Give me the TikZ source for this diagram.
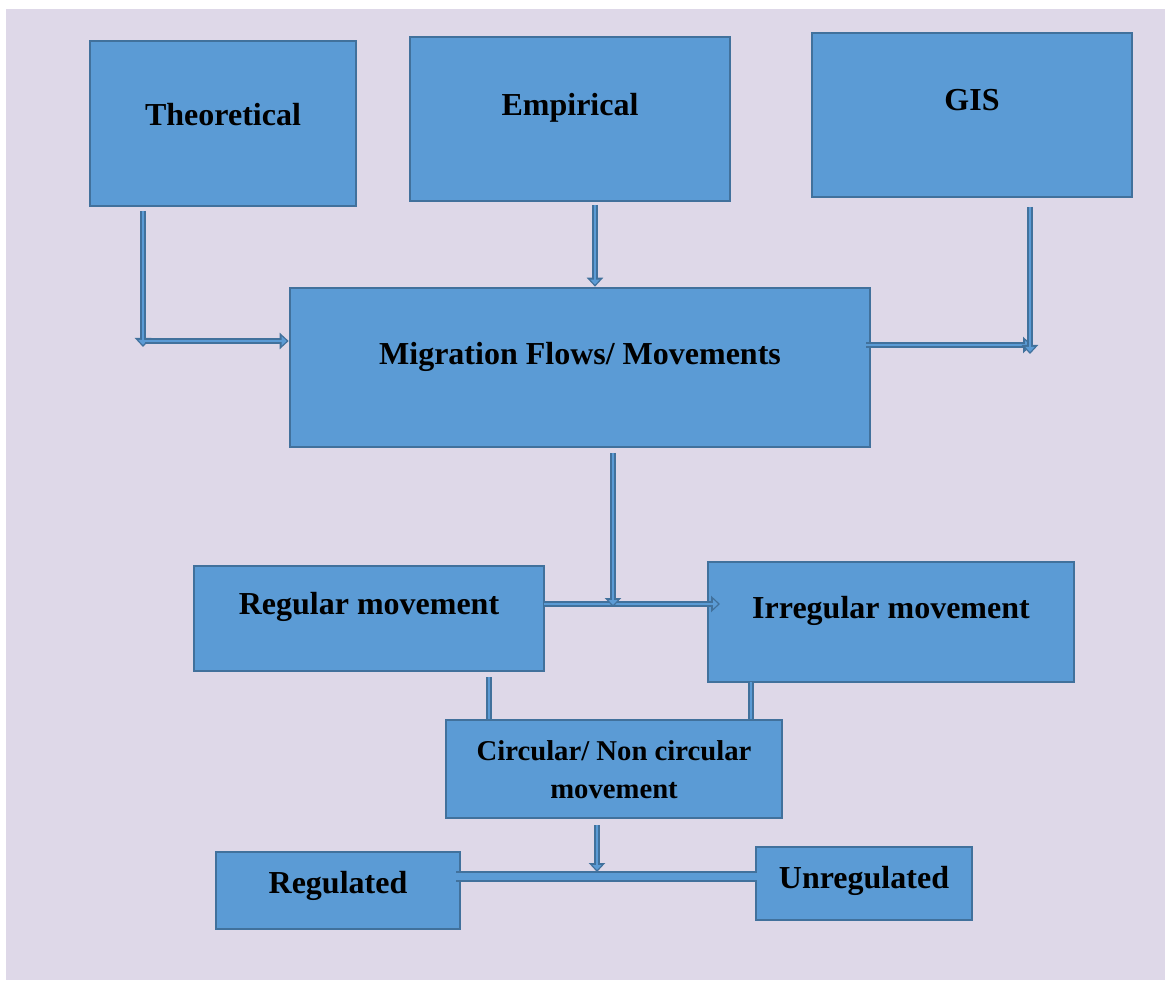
\documentclass[tikz,border=0pt]{standalone}
\usepackage{fontspec}
\setmainfont{Liberation Serif}
\usetikzlibrary{arrows.meta}
\definecolor{bg}{RGB}{222,216,232}
\definecolor{boxfill}{RGB}{91,155,213}
\definecolor{boxedge}{RGB}{65,113,156}
\tikzset{
  box/.style={draw=boxedge, fill=boxfill, line width=2.6pt, minimum width=#1, inner sep=0pt},
  lbl/.style={anchor=base, font=\fontsize{32}{38}\selectfont\bfseries, text=black, inner sep=0pt},
  slbl/.style={anchor=base, font=\fontsize{28.7}{38}\selectfont\bfseries, text=black, inner sep=0pt},
  band/.style={draw=boxedge, line width=6pt,
     postaction={draw=boxfill, line width=2.4pt}},
  aband/.style={draw=boxedge, line width=6pt, -{Triangle[width=16pt,length=9pt]},
     postaction={draw=boxfill, line width=2.4pt, -{Triangle[width=9pt,length=5pt]}, shorten >=2pt}},
  wband/.style={draw=boxedge, line width=11pt,
     postaction={draw=boxfill, line width=7pt}}
}
\begin{document}
\begin{tikzpicture}[x=1pt,y=-1pt]
\useasboundingbox (0,0) rectangle (1165,981);
\fill[bg] (6,9) rectangle (1165,980);
% boxes
\node[box=266pt, minimum height=165pt] (theo) at (223,123.5) {};
\node[box=320pt, minimum height=164pt] (emp) at (570,119) {};
\node[box=320pt, minimum height=164pt] (gis) at (972,115) {};
\node[box=580pt, minimum height=159pt] (mig) at (580,367.5) {};
\node[box=350pt, minimum height=105pt] (reg) at (369,618.5) {};
\node[box=366pt, minimum height=120pt] (irr) at (891,622) {};
\node[box=336pt, minimum height=98pt] (circ) at (614,769) {};
\node[box=244pt, minimum height=77pt] (regd) at (338,890.5) {};
\node[box=216pt, minimum height=73pt] (unreg) at (864,883.5) {};
% labels
\node[lbl] (theoT) at (223,126) {Theoretical};
\node[lbl] (empT) at (570,116) {Empirical};
\node[lbl] (gisT) at (972,111) {GIS};
\node[lbl] (migT) at (580,365) {Migration Flows/ Movements};
\node[lbl] (regT) at (369,614) {Regular movement};
\node[lbl] (irrT) at (891,618) {Irregular movement};
\node[slbl] (circT1) at (614,760) {Circular/ Non circular};
\node[slbl] (circT2) at (614,798) {movement};
\node[lbl] (regdT) at (338,893) {Regulated};
\node[lbl] (unregT) at (864,888) {Unregulated};
% connector coordinates
\coordinate (t1) at (143,211);
\coordinate (t2) at (143,347);
\coordinate (t3) at (145,341);
\coordinate (e1) at (595,205);
\coordinate (g1) at (1030,207);
\coordinate (g2) at (1030,354);
\coordinate (m1) at (866,345);
\coordinate (m2) at (1032,345);
\coordinate (d1) at (613,453);
\coordinate (d2) at (613,607);
\coordinate (h1) at (544,604);
\coordinate (h2) at (720,604);
\coordinate (c1) at (597,825);
\coordinate (c2) at (597,872);
\coordinate (u1) at (456,876);
\coordinate (u2) at (757,876);
\coordinate (r1) at (489,677);
\coordinate (r2) at (751,682);
% connectors
\draw[aband] (t1) -- (t2);
\draw[aband] (t3) -- (mig.west |- t3);
\draw[aband] (e1) -- (e1 |- mig.north);
\draw[aband] (m1) -- (m2);
\draw[aband] (g1) -- (g2);
\draw[aband] (h1) -- (h2);
\draw[aband] (d1) -- (d2);
\draw[band] (r1) -- (r1 |- circ.north);
\draw[band] (r2) -- (r2 |- circ.north);
\draw[wband] (u1) -- (u2);
\draw[aband] (c1) -- (c2);
\end{tikzpicture}
\end{document}
